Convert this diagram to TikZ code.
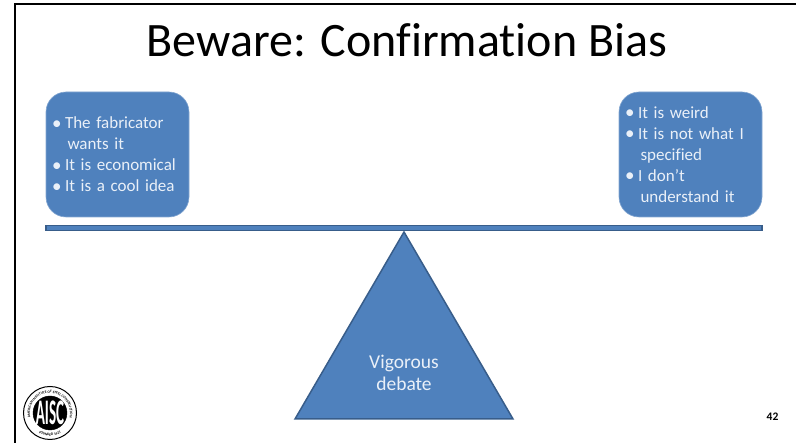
\documentclass[tikz,border=0pt]{standalone}
\usepackage{fontspec}
\setmainfont[Ligatures=NoCommon]{Carlito}
\newfontfamily\boxfont[Ligatures=NoCommon,WordSpace=0.8]{Carlito}
\usepackage{tikz}
\usetikzlibrary{arrows,calc,positioning,shapes,decorations.text}
\definecolor{slidefill}{HTML}{4F81BD}
\definecolor{slideline}{HTML}{385D8A}
\definecolor{boxtext}{HTML}{EAF0F8}
\newcommand{\itemdot}{\makebox[12.5pt][l]{\hspace{-0.5pt}\raisebox{-0.5pt}{\fontsize{19}{19}\selectfont\textbullet}}}

\begin{document}
\begin{tikzpicture}[auto,x=1pt,y=1pt]
	\tikzstyle{block} = [draw=slidefill!70!white, fill=slidefill, rounded corners=20pt, line width=0.6pt, minimum height=125pt, minimum width=143pt, text width=130pt, inner sep=0pt, align=left, text=boxtext, font=\boxfont\fontsize{17}{21}\selectfont]
	\tikzstyle{darkpart} = [draw=slideline, fill=slidefill, line width=1.5pt]
	\tikzstyle{logoring} = [circle, draw=black, inner sep=0pt]

	\useasboundingbox (0,0) rectangle (796,443);

	\coordinate (framea) at (796,439);
	\coordinate (frameb) at (15,439);
	\coordinate (framec) at (15,0);
	\draw [line width=2.4pt, miter limit=2] (framea) -- (frameb) -- (framec);

	\node [anchor=base] (title) at (407,386) {\fontsize{48}{54}\selectfont Beware: Confirmation Bias};

	\node [block] (pro) at (117.5,288.5) {\itemdot The fabricator\\\hspace{15pt}wants it\\\itemdot It is economical\\\itemdot It is a cool idea};
	\node [block, right = 429.4pt of pro] (con) {\itemdot It is weird\\\itemdot It is not what I\\\hspace{15pt}specified\\\itemdot I don’t\\\hspace{15pt}understand it};

	\node [darkpart, rectangle, minimum width=716pt, minimum height=5pt, inner sep=0pt] (beam) at (404,215) {};

	\coordinate (apex) at (404,211);
	\coordinate (baseleft) at (295,24);
	\coordinate (baseright) at (513,24);
	\draw [darkpart, line join=miter] (apex) -- (baseright) -- (baseleft) -- cycle;
	\node [align=center, text=boxtext, font=\fontsize{19.5}{22}\selectfont] (debate) at (404,70) {Vigorous\\debate};

	\node [font=\fontsize{11.5}{13}\selectfont\bfseries] (page) at (772.5,26) {42};

	\node [logoring, line width=1pt, minimum size=53pt] (logo) at (50,30) {};
	\node [logoring, fill=black, minimum size=34pt] (logoin) at (logo.center) {};
	\node [font=\fontsize{36}{36}\selectfont\bfseries, text=white, inner sep=0pt, xscale=0.42] (aisc) at (logo.center) {AISC};
	\path [decorate, decoration={text along path, text align=center, text={|\fontsize{3.6}{4}\selectfont\bfseries|AMERICAN INSTITUTE OF STEEL CONSTRUCTION}}]
		($(logo.center)+(205:20)$) arc (205:-25:20);
	\path [decorate, decoration={text along path, text align=center, text={|\fontsize{3.6}{4}\selectfont\bfseries|FOUNDED 1921}}]
		($(logo.center)+(235:23)$) arc (235:305:23);
\end{tikzpicture}
\end{document}
